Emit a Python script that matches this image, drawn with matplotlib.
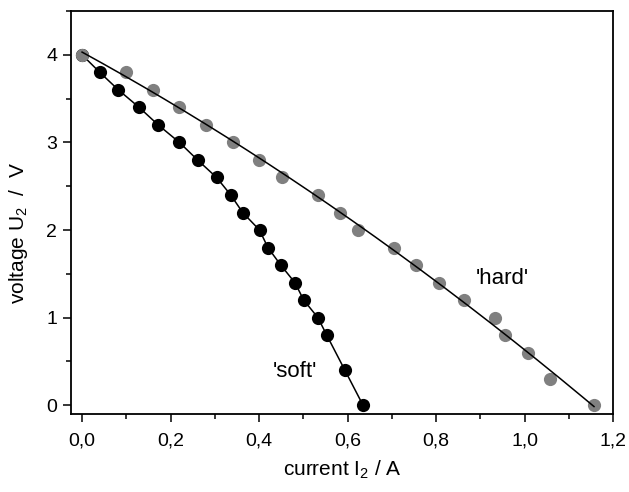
import matplotlib
matplotlib.use("Agg")
import numpy as np
import matplotlib.pyplot as plt
from matplotlib.ticker import MultipleLocator, FixedLocator

plt.rcParams['font.family'] = ['Liberation Sans', 'DejaVu Sans']
plt.rcParams['mathtext.default'] = 'regular'

# 'soft' source (black)
soft_i = [0.0, 0.04, 0.082, 0.129, 0.172, 0.22, 0.261, 0.304, 0.336, 0.363,
          0.401, 0.42, 0.449, 0.481, 0.501, 0.533, 0.553, 0.594, 0.635]
soft_u = [4.0, 3.8, 3.6, 3.4, 3.2, 3.0, 2.8, 2.6, 2.4, 2.2,
          2.0, 1.8, 1.6, 1.4, 1.2, 1.0, 0.8, 0.4, 0.0]

# 'hard' source (grey)
hard_i = [0.0, 0.1, 0.161, 0.22, 0.279, 0.34, 0.40, 0.451, 0.533, 0.583,
          0.624, 0.705, 0.755, 0.807, 0.864, 0.934, 0.955, 1.007, 1.057, 1.157]
hard_u = [4.0, 3.8, 3.6, 3.4, 3.2, 3.0, 2.8, 2.6, 2.4, 2.2,
          2.0, 1.8, 1.6, 1.4, 1.2, 1.0, 0.8, 0.6, 0.3, 0.0]

x_ticks = [0.0, 0.2, 0.4, 0.6, 0.8, 1.0, 1.2]
x_tick_labels = ['0,0', '0,2', '0,4', '0,6', '0,8', '1,0', '1,2']
y_ticks = [0, 1, 2, 3, 4]

# smooth quadratic fit through the hard points
coef = np.polyfit(hard_i, hard_u, 2)
fit_i = np.linspace(hard_i[0], hard_i[-1], 200)
fit_u = np.polyval(coef, fit_i)

fig = plt.figure(figsize=(6.29, 4.92), dpi=100)
ax = fig.add_axes([0.1129, 0.1585, 0.8617, 0.8191])

ax.plot(soft_i, soft_u, 'o', color='black', markersize=9.5, markeredgewidth=0, zorder=2)
ax.plot(soft_i, soft_u, '-', color='black', linewidth=1.1, zorder=3)
ax.plot(hard_i, hard_u, 'o', color='#808080', markersize=9.5, markeredgewidth=0, zorder=4)
ax.plot(fit_i, fit_u, '-', color='black', linewidth=1.1, zorder=5)

ax.text(0.48, 0.39, "'soft'", fontsize=16, ha='center', va='center')
ax.text(0.949, 1.45, "'hard'", fontsize=16, ha='center', va='center')

ax.set_xlim(-0.025, 1.2)
ax.set_ylim(-0.1, 4.5)

ax.xaxis.set_major_locator(FixedLocator(x_ticks))
ax.set_xticklabels(x_tick_labels)
ax.xaxis.set_minor_locator(MultipleLocator(0.1))
ax.set_yticks(y_ticks)
ax.yaxis.set_minor_locator(MultipleLocator(0.5))

ax.tick_params(which='major', direction='out', length=6, width=1.1, labelsize=14)
ax.tick_params(axis='x', which='major', pad=7)
ax.tick_params(axis='y', which='major', pad=4)
ax.tick_params(which='minor', direction='out', length=3.5, width=1.1)
for s in ax.spines.values():
    s.set_linewidth(1.3)

ax.set_xlabel('current I$_2$ / A', fontsize=15)
ax.set_ylabel('voltage U$_2$  /  V', fontsize=15)
ax.xaxis.set_label_coords(0.5, -0.11)
ax.yaxis.set_label_coords(-0.075, 0.45)

fig.savefig('out.png', dpi=100)
